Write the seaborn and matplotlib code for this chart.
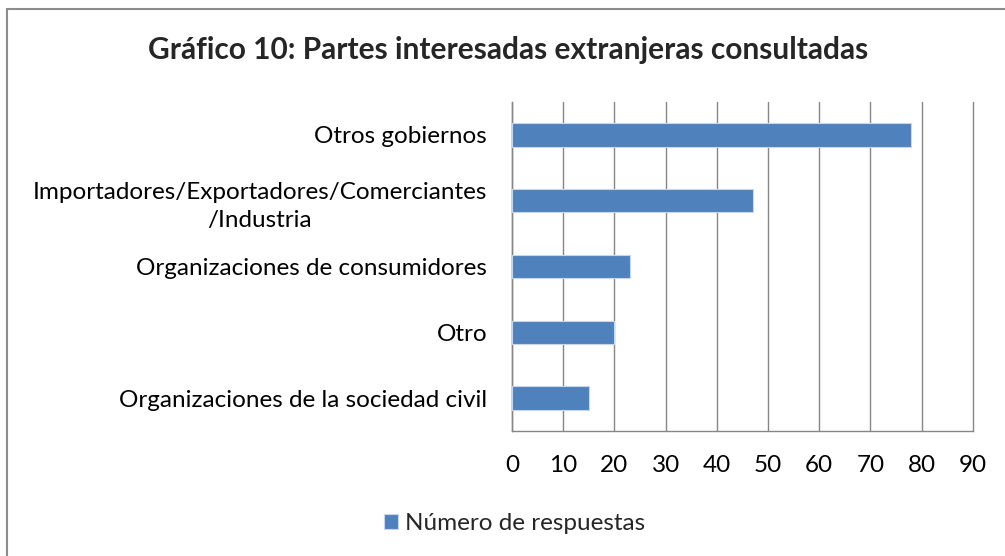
import pandas as pd
import seaborn as sns
import matplotlib.pyplot as plt
from matplotlib.patches import Rectangle

categorias = [
    "Otros gobiernos",
    "Importadores/Exportadores/Comerciantes\n/Industria",
    "Organizaciones de consumidores",
    "Otro",
    "Organizaciones de la sociedad civil",
]
respuestas = [78, 47, 23, 20, 15]
ticks_x = [0, 10, 20, 30, 40, 50, 60, 70, 80, 90]
serie = "Número de respuestas"
titulo = "Gráfico 10: Partes interesadas extranjeras consultadas"

sns.set_style("white")
plt.rcParams["font.family"] = ["Lato", "DejaVu Sans"]

df = pd.DataFrame({"categoria": categorias, "valor": respuestas})

fig = plt.figure(figsize=(10.05, 5.56), dpi=100)
ax = fig.add_axes([0.5095, 0.2248, 0.4585, 0.5917])

sns.barplot(data=df, x="valor", y="categoria", orient="h", color="#4F81BD",
            saturation=1, width=0.355, edgecolor="#C9D6EA", linewidth=0.8,
            label=serie, ax=ax, zorder=3)
if ax.get_legend() is not None:
    ax.get_legend().remove()

ax.set_xlim(0, 90)
ax.set_xticks(ticks_x)
ax.set_xlabel("")
ax.set_ylabel("")
ax.grid(axis="x", color="#868686", linewidth=1.0, zorder=0)
ax.grid(axis="y", visible=False)
for gl in ax.get_xgridlines():
    gl.set_clip_on(False)
for s in ["top", "right"]:
    ax.spines[s].set_visible(False)
for s in ["left", "bottom"]:
    ax.spines[s].set_color("#868686")
    ax.spines[s].set_linewidth(1.0)
ax.tick_params(axis="both", length=0, labelsize=17.5, colors="black")
ax.tick_params(axis="y", pad=18)
ax.tick_params(axis="x", pad=17)
for lbl in ax.get_yticklabels():
    lbl.set_multialignment("center")
    lbl.set_linespacing(1.45)

fig.text(0.506, 0.91, titulo, ha="center", va="center", fontsize=21.5,
         fontweight="bold")

h, l = ax.get_legend_handles_labels()
fig.legend(h, l, loc="center", bbox_to_anchor=(0.512, 0.058), frameon=False,
           fontsize=17.5, handlelength=0.6, handleheight=0.6, handletextpad=0.3)

# marco del gráfico
fig.patches.append(Rectangle((7 / 1005, -0.05), 1.2, 1 - 9 / 556 + 0.05,
                             transform=fig.transFigure, fill=False,
                             edgecolor="#8C8C8C", linewidth=1.5))

fig.savefig("out.png", dpi=100)
